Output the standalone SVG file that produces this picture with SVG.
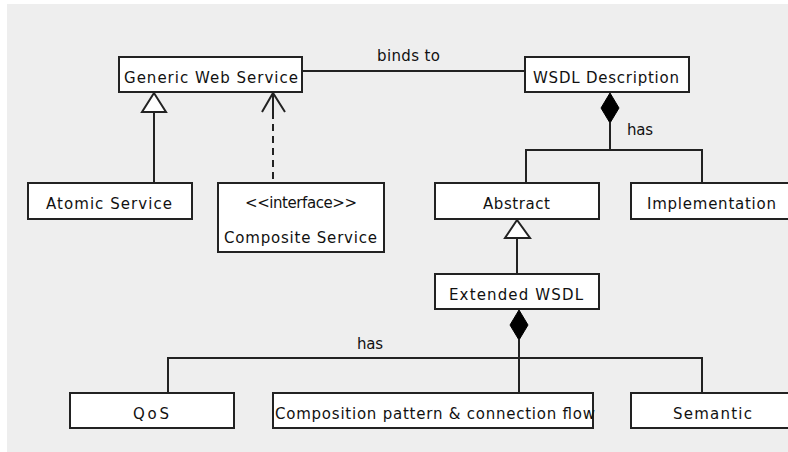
<svg xmlns="http://www.w3.org/2000/svg" width="788" height="452" viewBox="0 0 788 452">
<style>
.box{fill:#fff;stroke:#222;stroke-width:2}
.t{font-family:"DejaVu Sans",sans-serif;font-size:15px;fill:#111}
.ln{fill:none;stroke:#222;stroke-width:2}
.dash{fill:none;stroke:#222;stroke-width:2;stroke-dasharray:7 5}
.tri{fill:#fff;stroke:#222;stroke-width:2}
.dia{fill:#000;stroke:#000;stroke-width:1}
</style>
<rect x="0" y="0" width="788" height="452" fill="#fff"/>
<rect x="7" y="4" width="781" height="448" fill="#eeeeee"/>
<g id="connectors">
<line class="ln" x1="302" y1="71" x2="525" y2="71"/>
<text class="t" x="377" y="61" textLength="63" lengthAdjust="spacing">binds to</text>
<line class="ln" x1="154" y1="112" x2="154" y2="183"/>
<polygon class="tri" points="154,93 142,112 166,112"/>
<line class="dash" x1="273" y1="112" x2="273" y2="183"/>
<polyline class="ln" points="262,112 273,93 285,112"/>
<line class="ln" x1="273" y1="93" x2="273" y2="112"/>
<polyline class="ln" points="610,123 610,150"/>
<polyline class="ln" points="526,183 526,150 702,150 702,183"/>
<polygon class="dia" points="610,93 619,108 610,123 601,108"/>
<text class="t" x="627" y="135" textLength="26" lengthAdjust="spacing">has</text>
<line class="ln" x1="517" y1="238" x2="517" y2="274"/>
<polygon class="tri" points="517,220 505,238 530,238"/>
<line class="ln" x1="519" y1="340" x2="519" y2="393"/>
<polyline class="ln" points="168,393 168,358 702,358 702,393"/>
<polygon class="dia" points="519,310 528,325 519,340 510,325"/>
<text class="t" x="357" y="349" textLength="26" lengthAdjust="spacing">has</text>
</g>
<g id="generic">
<rect class="box" x="119" y="57" width="183" height="35"/>
<text class="t" x="124" y="83" textLength="174" lengthAdjust="spacing">Generic Web Service</text>
</g>
<g id="wsdl">
<rect class="box" x="525" y="57" width="164" height="35"/>
<text class="t" x="533" y="83" textLength="146" lengthAdjust="spacing">WSDL Description</text>
</g>
<g id="atomic">
<rect class="box" x="28" y="183" width="164" height="36"/>
<text class="t" x="46" y="209" textLength="126" lengthAdjust="spacing">Atomic Service</text>
</g>
<g id="composite">
<rect class="box" x="218" y="183" width="166" height="69"/>
<text class="t" x="245" y="208" textLength="112" lengthAdjust="spacing">&lt;&lt;interface&gt;&gt;</text>
<text class="t" x="224" y="243" textLength="153" lengthAdjust="spacing">Composite Service</text>
</g>
<g id="abstract">
<rect class="box" x="435" y="183" width="164" height="36"/>
<text class="t" x="483" y="209" textLength="67" lengthAdjust="spacing">Abstract</text>
</g>
<g id="implementation">
<rect class="box" x="631" y="183" width="164" height="36"/>
<text class="t" x="647" y="209" textLength="129" lengthAdjust="spacing">Implementation</text>
</g>
<g id="extended">
<rect class="box" x="435" y="274" width="164" height="35"/>
<text class="t" x="449" y="300" textLength="134" lengthAdjust="spacing">Extended WSDL</text>
</g>
<g id="qos">
<rect class="box" x="70" y="393" width="164" height="35"/>
<text class="t" x="133" y="419" textLength="36" lengthAdjust="spacing">QoS</text>
</g>
<g id="composition">
<rect class="box" x="273" y="393" width="320" height="35"/>
<text class="t" x="275" y="419" textLength="320" lengthAdjust="spacing">Composition pattern &amp; connection flow</text>
</g>
<g id="semantic">
<rect class="box" x="631" y="393" width="164" height="35"/>
<text class="t" x="673" y="419" textLength="79" lengthAdjust="spacing">Semantic</text>
</g>
</svg>
